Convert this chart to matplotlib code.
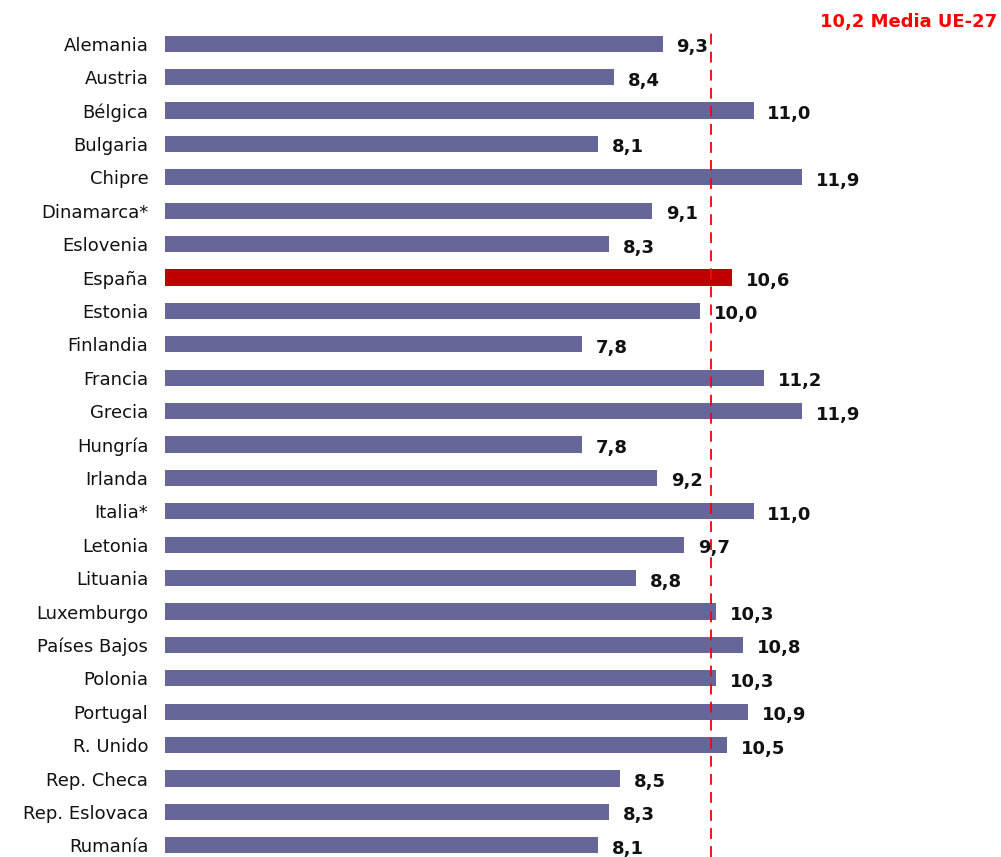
import matplotlib.pyplot as plt

paises = ['Alemania', 'Austria', 'Bélgica', 'Bulgaria', 'Chipre', 'Dinamarca*',
          'Eslovenia', 'España', 'Estonia', 'Finlandia', 'Francia', 'Grecia',
          'Hungría', 'Irlanda', 'Italia*', 'Letonia', 'Lituania', 'Luxemburgo',
          'Países Bajos', 'Polonia', 'Portugal', 'R. Unido', 'Rep. Checa',
          'Rep. Eslovaca', 'Rumanía']
valores = [9.3, 8.4, 11.0, 8.1, 11.9, 9.1, 8.3, 10.6, 10.0, 7.8, 11.2, 11.9,
           7.8, 9.2, 11.0, 9.7, 8.8, 10.3, 10.8, 10.3, 10.9, 10.5, 8.5, 8.3, 8.1]
media_ue = 10.2
destacado = 'España'

fig = plt.figure(figsize=(10.01, 8.57), dpi=100)
ax = fig.add_axes([165 / 1001, 0, 836 / 1001, 830 / 857])

colores = ['#C00000' if p == destacado else '#666699' for p in paises]
y = list(range(len(paises)))
ax.barh(y, valores, height=0.48, color=colores)

# etiquetas de valor, algo por debajo del centro de la barra
for i, v in enumerate(valores):
    ax.annotate(('%.1f' % v).replace('.', ','), (v, i), xytext=(10, -2.5),
                textcoords='offset points', ha='left', va='center',
                fontsize=13, fontweight='bold', color='#111111')

ax.axvline(media_ue, color='#FF0000', linestyle=(0, (6, 4)), linewidth=1.3)
fig.text(997 / 1001, 1 - 22 / 857, ('%.1f' % media_ue).replace('.', ',') + ' Media UE-27',
         ha='right', va='center', fontsize=13, fontweight='bold', color='#FF0000')

ax.set_xlim(0, 836 / 53.5)
ax.set_ylim(24.35, -0.5)
ax.set_yticks(y)
ax.set_yticklabels(paises, fontsize=13, color='#111111')
ax.tick_params(axis='y', length=0, pad=12)
ax.set_xticks([])
for s in ax.spines.values():
    s.set_visible(False)

plt.savefig('out.png', dpi=100)
